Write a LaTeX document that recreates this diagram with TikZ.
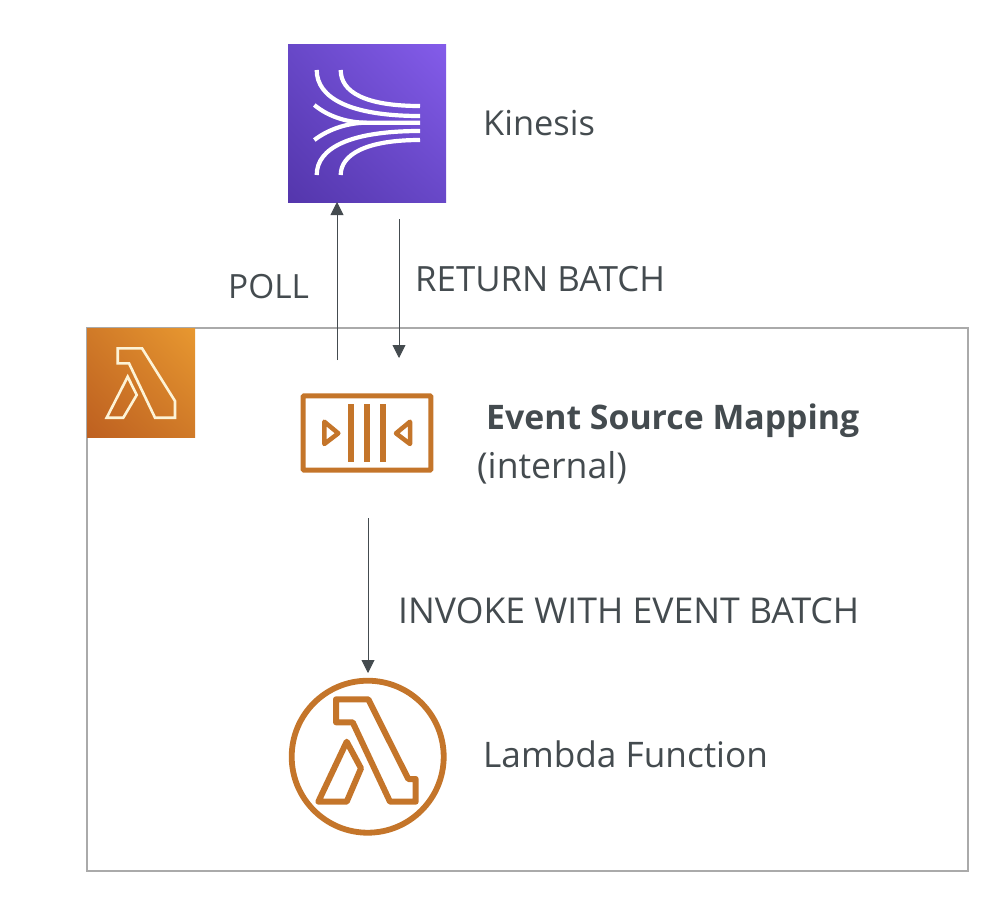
\documentclass[tikz,border=0pt]{standalone}
\usepackage{fontspec}
\setmainfont{Open Sans}
\usetikzlibrary{arrows.meta,shadings}
\definecolor{txt}{HTML}{444B4F}
\definecolor{orangeline}{HTML}{C4752A}
\definecolor{framegray}{HTML}{AAAAAA}
\definecolor{lamcream}{HTML}{FDF3D6}
\definecolor{lamA}{HTML}{BE6020}
\definecolor{lamB}{HTML}{D07A28}
\definecolor{lamC}{HTML}{E89830}
\definecolor{kinA}{HTML}{5436AC}
\definecolor{kinB}{HTML}{6848C8}
\definecolor{kinC}{HTML}{845CEA}
\newcommand{\fsz}[1]{\fontsize{#1}{#1}\selectfont}
\tikzset{
  x=1pt,y=-1pt,
  lbl/.style={anchor=base west,inner sep=0pt,text=txt},
  flow/.style={draw=txt,line width=0.9pt,-{Triangle[length=13pt,width=13pt]}},
  iconline/.style={draw=orangeline,line width=6pt,line join=round},
  streamline/.style={draw=white,line width=4.2pt},
  box/.style={inner sep=0pt,outer sep=0pt},
}
\begin{document}
\begin{tikzpicture}
\useasboundingbox (0,0) rectangle (1000,900);
% frame
\node[box,draw=framegray,line width=1.6pt,minimum width=881pt,minimum height=543pt] (frame) at (527.5,599.5) {};
% lambda tile
\node[box,minimum width=108pt,minimum height=109pt,lower left=lamA,upper left=lamB,upper right=lamC,lower right=lamB,shade] (tile) at (141,382.5) {};
\draw[draw=lamcream,line width=2.6pt,line join=miter]
  (117.7,348.3) -- (142,348.3) -- (175,401) -- (175,417.7) -- (155,417.7) -- (129,363.3) -- (117.7,363.3) -- cycle
  (127.7,376.7) -- (136.7,395) -- (123.3,417.7) -- (106.7,417.7) -- cycle;
% kinesis tile
\node[box,minimum size=158pt,lower left=kinA,upper left=kinB,upper right=kinC,lower right=kinB,shade] (kinesis) at (367,123) {};
\draw[streamline] (316.7,70) .. controls (316.7,98) and (350,116) .. (420,116);
\draw[streamline] (340.7,70) .. controls (340.7,92) and (365,106) .. (420,106);
\draw[streamline] (314.3,105) .. controls (330,118) and (350,122.7) .. (366.7,122.7) -- (420,122.7);
\draw[streamline] (314.3,140) .. controls (330,128) and (350,122.7) .. (366.7,122.7);
\draw[streamline] (316.7,175) .. controls (316.7,148) and (350,131) .. (420,131);
\draw[streamline] (340.7,175) .. controls (340.7,155) and (365,140) .. (420,140);
% event source mapping icon
\node[box,draw=orangeline,line width=5pt,rounded corners=1pt,minimum width=127.6pt,minimum height=74.4pt] (esm) at (367,433) {};
\draw[draw=orangeline,line width=6pt] (351,404.3) -- (351,461.7) (366.7,404.3) -- (366.7,461.7) (382.7,404.3) -- (382.7,461.7);
\draw[draw=orangeline,line width=4.5pt,line join=round] (324.3,421.7) -- (338.3,433.3) -- (324.3,444) -- cycle;
\draw[draw=orangeline,line width=4.5pt,line join=round] (410,421.7) -- (396,433.3) -- (410,444) -- cycle;
% lambda function icon
\node[box,circle,draw=orangeline,line width=5.8pt,minimum size=152pt] (fn) at (367.7,756.7) {};
\draw[iconline]
  (336,699.3) -- (368.3,699.3) -- (408.3,779) -- (415.7,779) -- (415.7,801.7) -- (390,801.7) -- (352.7,722.3) -- (336,722.3) -- cycle
  (346.7,741.7) -- (361,768.3) -- (346.7,801.7) -- (318.3,801.7) -- cycle;
% connectors
\coordinate (pollstart) at (337,360);
\coordinate (retstart) at (399,219);
\coordinate (retend) at (399,358);
\coordinate (invstart) at (368,518);
\coordinate (invend) at (368,673);
\draw[flow] (pollstart) -- (pollstart |- kinesis.south);
\draw[flow] (retstart) -- (retend);
\draw[flow] (invstart) -- (invend);
% labels
\node[lbl,font=\fsz{34.4}] (lkin) at (483,135) {Kinesis};
\node[lbl,font=\fsz{33.4}] (lpoll) at (228,298) {POLL};
\node[lbl,font=\fsz{34.8}] (lret) at (415,291) {RETURN BATCH};
\node[lbl,font=\fsz{33.8}\bfseries] (lesm) at (486,429) {Event Source Mapping};
\node[lbl,font=\fsz{35.6}] (lint) at (477,478) {(internal)};
\node[lbl,font=\fsz{35.6}] (linv) at (398,623) {INVOKE WITH EVENT BATCH};
\node[lbl,font=\fsz{35.2}] (lfn) at (483,767) {Lambda Function};
\end{tikzpicture}
\end{document}
